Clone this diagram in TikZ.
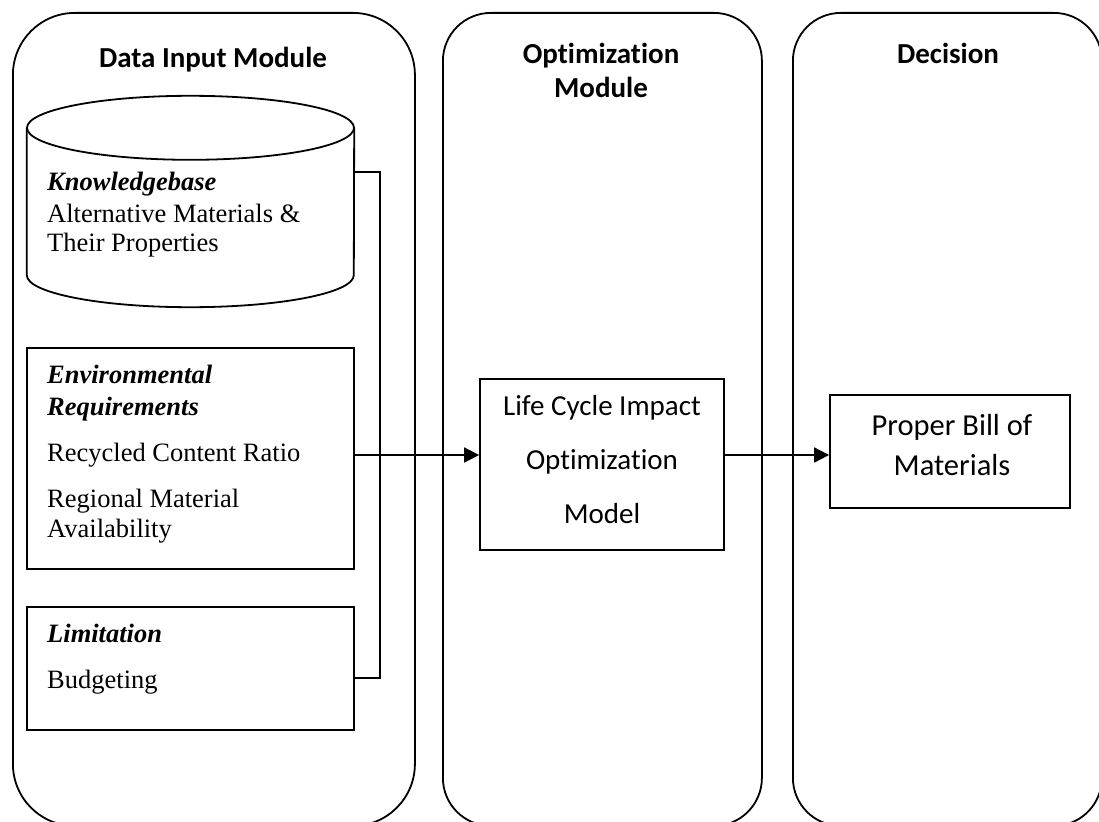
\documentclass[tikz,border=0pt]{standalone}
\usepackage{fontspec}
\setmainfont{Liberation Serif}
\newfontfamily\calib[Ligatures=NoCommon]{Carlito}
\usetikzlibrary{arrows.meta}

\tikzset{
  panel/.style={draw, line width=1.8pt, inner sep=0pt, anchor=north west},
  box/.style={draw, line width=1.8pt, inner sep=0pt, minimum width=#1},
  link/.style={line width=1.8pt},
  arr/.style={line width=1.8pt, -{Triangle[length=15pt, width=15pt]}},
  heading/.style={font=\calib\fontsize{29}{34}\selectfont\bfseries, anchor=base, inner sep=0pt},
  sansline/.style={font=\calib\fontsize{29}{34}\selectfont, anchor=base, inner sep=0pt},
  sanslarge/.style={font=\calib\fontsize{30.5}{34}\selectfont, anchor=base, inner sep=0pt},
  serifline/.style={font=\fontsize{26.5}{30}\selectfont, anchor=base west, inner sep=0pt},
  seriftitle/.style={font=\fontsize{26.5}{30}\selectfont\bfseries\itshape, anchor=base west, inner sep=0pt}
}

\begin{document}
\begin{tikzpicture}[x=1pt, y=-1pt]
  \useasboundingbox (0,0) rectangle (1099,821);
  \clip (0,0) rectangle (1099,821);

  % three module panels
  \node[panel, rounded corners=62pt, minimum width=402pt, minimum height=813pt] (pin) at (12,12) {};
  \node[panel, rounded corners=48pt, minimum width=319pt, minimum height=813pt] (popt) at (442,12) {};
  \node[panel, rounded corners=48pt, minimum width=309pt, minimum height=813pt] (pdec) at (792,12) {};

  % panel headings
  \node[heading] (hin) at (213,68) {Data Input Module};
  \node[heading] (hopt1) at (601,64) {Optimization};
  \node[heading] (hopt2) at (601,98) {Module};
  \node[heading] (hdec) at (948,64) {Decision};

  % knowledge base cylinder: body from y=128 to y=275, end caps 32pt deep
  \node[inner sep=0pt, minimum width=327pt, minimum height=147pt] (kb) at (190.5,201.5) {};
  \draw[link] (kb.north west) -- (kb.south west)
    arc[start angle=180, end angle=360, x radius=163.5pt, y radius=32pt] -- (kb.north east);
  \draw[link, fill=white] (kb.north) ellipse [x radius=163.5pt, y radius=32pt];
  \node[seriftitle] (kbt) at (47,190) {Knowledgebase};
  \node[serifline] (kb1) at (47,222) {Alternative Materials \&};
  \node[serifline] (kb2) at (47,251) {Their Properties};

  % environmental requirements
  \node[box=327pt, minimum height=221pt] (env) at (190.5,458.5) {};
  \node[seriftitle] (envt1) at (47,383) {Environmental};
  \node[seriftitle] (envt2) at (47,415) {Requirements};
  \node[serifline] (env1) at (47,461) {Recycled Content Ratio};
  \node[serifline] (env2) at (47,507) {Regional Material};
  \node[serifline] (env3) at (47,537) {Availability};

  % limitation
  \node[box=327pt, minimum height=123pt] (lim) at (190.5,668.5) {};
  \node[seriftitle] (limt) at (47,642) {Limitation};
  \node[serifline] (lim1) at (47,688) {Budgeting};

  % optimization model
  \node[box=244pt, minimum height=171pt] (lc) at (602,464.5) {};
  \node[sansline] (lc1) at (602,415) {Life Cycle Impact};
  \node[sansline] (lc2) at (602,469) {Optimization};
  \node[sansline] (lc3) at (602,523) {Model};

  % decision output
  \node[box=240pt, minimum height=113pt] (pb) at (950,451.5) {};
  \node[sanslarge] (pb1) at (952,435) {Proper Bill of};
  \node[sanslarge] (pb2) at (952,475) {Materials};

  % connectors
  \coordinate (rail) at (380,0);
  \coordinate (kbrow) at (0,172);
  \coordinate (limrow) at (0,678);
  \coordinate (flow) at (0,455);
  \draw[link] (kb.east |- kbrow) -- (rail |- kbrow) -- (rail |- limrow) -- (lim.east |- limrow);
  \draw[arr] (env.east |- flow) -- (lc.west |- flow);
  \draw[arr] (lc.east |- flow) -- (pb.west |- flow);
\end{tikzpicture}
\end{document}
